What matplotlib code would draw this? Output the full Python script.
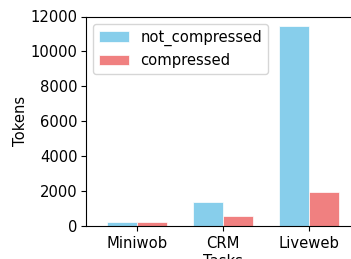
import matplotlib
matplotlib.use("Agg")
import matplotlib.pyplot as plt
import numpy as np

tasks = ["Miniwob", "CRM", "Liveweb"]
not_compressed = [210, 1390, 11480]
compressed = [210, 570, 1940]

fs = 10.6
fig = plt.figure(figsize=(3.51, 2.59), dpi=100)
ax = fig.add_axes([86/351, 1-226/259, (360-86)/351, (226-16.5)/259])
x = np.arange(len(tasks))
w = 0.35
ax.bar(x - w/2, not_compressed, w, label="not_compressed", color="skyblue", edgecolor="white", linewidth=0.5)
ax.bar(x + w/2, compressed, w, label="compressed", color="lightcoral", edgecolor="white", linewidth=0.5)
ax.set_xticks(x)
ax.set_xticklabels(tasks, fontsize=fs)
ax.tick_params(axis="y", labelsize=fs, pad=2.5)
ax.set_ylim(0, 12000)
ax.set_xlim(-0.593, 2.593)
ax.set_ylabel("Tokens", fontsize=fs, labelpad=2)
ax.set_xlabel("Tasks", fontsize=fs, labelpad=2)
ax.legend(loc="upper left", fontsize=fs)
fig.savefig("out.png", dpi=100)
